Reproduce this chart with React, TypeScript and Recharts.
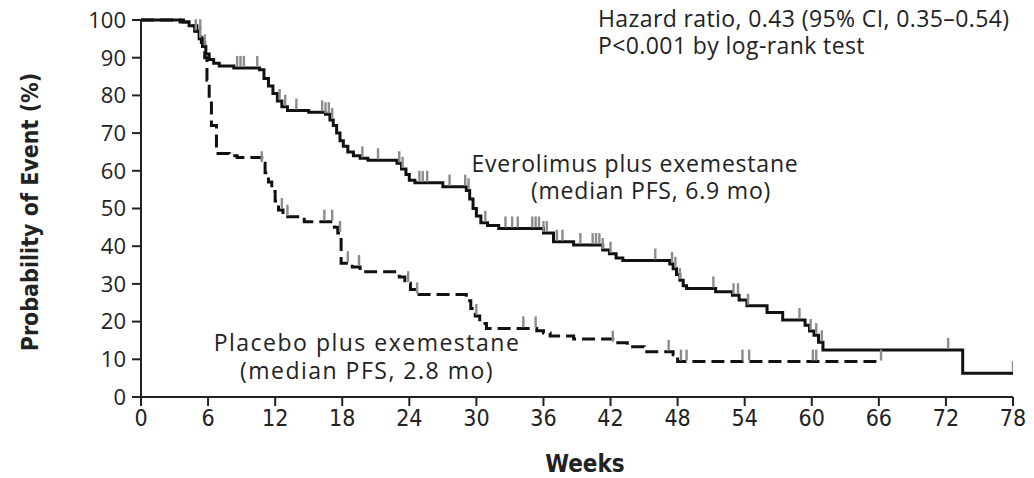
import React from "react";
import { ComposedChart, Line, Scatter, XAxis, YAxis } from "recharts";

// axis ticks
const weekTicks = [0, 6, 12, 18, 24, 30, 36, 42, 48, 54, 60, 66, 72, 78];
const probTicks = [0, 10, 20, 30, 40, 50, 60, 70, 80, 90, 100];

// Kaplan-Meier steps: [week, percent]
const everolimusSteps: [number, number][] = [
  [0, 100], [3.8, 99.5], [4.3, 98.5], [4.8, 97], [5.2, 95], [5.5, 93], [5.8, 91],
  [6.1, 89.5], [6.5, 88.5], [7.0, 87.8], [8.3, 87.3], [10.6, 86.8], [11.0, 84.5],
  [11.4, 82.5], [11.8, 80.5], [12.2, 78.5], [12.6, 77], [13.1, 76], [15.0, 75.5],
  [16.5, 75], [16.9, 73.5], [17.2, 72], [17.5, 70], [17.8, 68], [18.1, 66.5],
  [18.5, 65], [19.0, 64], [19.6, 63.3], [20.3, 62.8], [22.9, 62], [23.3, 60.5],
  [23.7, 59], [24.0, 57.5], [24.5, 56.8], [27.0, 55.8], [29.1, 54.8], [29.4, 52.5],
  [29.7, 50], [30.0, 48], [30.4, 46.2], [31.0, 45.5], [32.0, 44.7], [36.0, 43.5],
  [36.9, 41.2], [38.7, 40.3], [41.3, 39], [41.9, 38], [42.5, 36.9], [43.1, 36.2],
  [47.3, 35.3], [47.6, 34], [47.9, 32.5], [48.2, 31], [48.5, 29.5], [48.8, 28.8],
  [51.4, 27.9], [52.9, 27], [53.5, 25.7], [54.2, 24.2], [56.0, 22.4], [57.4, 20.4],
  [59.4, 19], [59.8, 17.5], [60.2, 16.4], [60.6, 14.5], [61.0, 12.5], [73.5, 6.3],
  [78.0, 6.3],
];

const placeboSteps: [number, number][] = [
  [0, 100], [3.5, 99.5], [4.5, 98.5], [5.0, 97], [5.4, 94], [5.7, 90], [5.9, 84],
  [6.1, 79], [6.3, 72], [6.75, 64.6], [7.9, 64], [8.6, 63.5], [10.8, 62],
  [11.1, 59.5], [11.4, 57], [11.7, 54.5], [12.0, 52], [12.3, 49.6], [12.7, 47.8],
  [14.6, 46.5], [17.3, 45], [17.6, 43.5], [17.9, 35.5], [18.9, 34.5], [19.6, 33.2],
  [23.1, 31.8], [23.6, 30.2], [24.1, 28.5], [24.7, 27.2], [29.1, 25.5], [29.5, 23.5],
  [29.9, 21.5], [30.3, 19.5], [30.9, 18.2], [35.4, 17.6], [36.0, 17], [36.6, 16.2],
  [38.7, 15.4], [42.2, 14.4], [43.5, 13.3], [45.0, 12], [47.6, 11.2], [48.0, 9.4],
  [66.3, 9.4],
];

// censored observations (weeks)
const everolimusCensored = [
  4.9, 5.3, 5.7, 8.6, 8.9, 9.2, 10.4, 12.4, 12.9, 13.9, 16.2, 16.5, 16.8, 17.1,
  19.8, 21.2, 23.1, 23.4, 24.9, 25.2, 25.6, 27.6, 29.0, 29.3, 30.8, 32.6, 33.2,
  33.7, 35.0, 35.3, 35.6, 36.0, 36.3, 37.2, 37.7, 39.3, 40.4, 40.7, 41.0, 41.3,
  42.0, 46.0, 47.5, 47.8, 48.2, 51.2, 53.0, 53.4, 54.3, 58.9, 59.9, 60.4, 60.9,
  72.2, 78.0,
];
const placeboCensored = [
  5.3, 10.8, 12.6, 13.1, 16.4, 17.1, 17.8, 18.5, 19.5, 23.9, 24.7, 30.0, 34.2,
  35.3, 42.2, 47.2, 48.3, 48.8, 53.8, 54.4, 60.1, 60.4, 66.2,
];

const toRows = (steps: [number, number][]) => steps.map(([x, y]) => ({ x, y }));

// value of the step curve at a given week
const valueAt = (steps: [number, number][], week: number) => {
  let v = steps[0][1];
  for (const [x, y] of steps) {
    if (x <= week) v = y;
  }
  return v;
};

const censorRows = (steps: [number, number][], weeks: number[]) =>
  weeks.map((x) => ({ x, y: valueAt(steps, x) }));

const CensorTick = (props: any) => {
  const { cx, cy } = props;
  if (cx == null || cy == null) return null;
  return <line x1={cx} x2={cx} y1={cy - 12} y2={cy - 1} stroke="#8c8c8c" strokeWidth={2.4} />;
};

const tickFont = "'Open Sans', 'DejaVu Sans', sans-serif";
const narrowFont = "'Liberation Sans Narrow', 'DejaVu Sans', sans-serif";

const noteStyle = {
  position: "absolute" as const,
  fontFamily: tickFont,
  fontSize: 23,
  lineHeight: "26px",
  color: "#222",
  whiteSpace: "nowrap" as const,
};

export default function App() {
  return (
    <div style={{ position: "relative", width: 1034, height: 478, background: "#fff" }}>
      <style>{`body{margin:0;background:#fff}`}</style>
      <ComposedChart width={1034} height={478} margin={{ top: 20, right: 21, bottom: 51, left: 0 }}>
        <XAxis
          dataKey="x"
          type="number"
          domain={[0, 78]}
          ticks={weekTicks}
          interval={0}
          allowDataOverflow
          height={30}
          stroke="#222"
          strokeWidth={2}
          tickSize={9}
          tickMargin={4}
          tick={{ fill: "#222", fontSize: 23, fontFamily: narrowFont, fontStretch: "condensed" }}
        />
        <YAxis
          type="number"
          domain={[0, 100]}
          ticks={probTicks}
          interval={0}
          width={141}
          stroke="#222"
          strokeWidth={2}
          tickSize={9}
          tickMargin={6}
          tick={{ fill: "#222", fontSize: 22, fontFamily: tickFont }}
        />
        <Line
          data={toRows(placeboSteps)}
          dataKey="y"
          type="stepAfter"
          stroke="#111"
          strokeWidth={3}
          strokeDasharray="13 6"
          dot={false}
          isAnimationActive={false}
        />
        <Line
          data={toRows(everolimusSteps)}
          dataKey="y"
          type="stepAfter"
          stroke="#111"
          strokeWidth={3}
          dot={false}
          isAnimationActive={false}
        />
        <Scatter
          data={censorRows(everolimusSteps, everolimusCensored)}
          dataKey="y"
          shape={CensorTick}
          isAnimationActive={false}
        />
        <Scatter
          data={censorRows(placeboSteps, placeboCensored)}
          dataKey="y"
          shape={CensorTick}
          isAnimationActive={false}
        />
      </ComposedChart>

      <div style={{ ...noteStyle, left: 598, top: 5, letterSpacing: 0.4 }}>
        Hazard ratio, 0.43 (95% CI, 0.35–0.54)
      </div>
      <div style={{ ...noteStyle, left: 598, top: 32, letterSpacing: 0.4 }}>
        P&lt;0.001 by log-rank test
      </div>

      <div style={{ ...noteStyle, left: 435, width: 400, top: 150, textAlign: "center", letterSpacing: 0.8 }}>
        Everolimus plus exemestane
      </div>
      <div style={{ ...noteStyle, left: 451, width: 400, top: 177, textAlign: "center", letterSpacing: 0.8 }}>
        (median PFS, 6.9 mo)
      </div>

      <div style={{ ...noteStyle, left: 167, width: 400, top: 329, textAlign: "center", letterSpacing: 1.5 }}>
        Placebo plus exemestane
      </div>
      <div style={{ ...noteStyle, left: 167, width: 400, top: 357, textAlign: "center", letterSpacing: 1.5 }}>
        (median PFS, 2.8 mo)
      </div>

      <div
        style={{
          position: "absolute",
          left: 485,
          width: 200,
          top: 450,
          textAlign: "center",
          fontFamily: narrowFont,
          fontStretch: "condensed",
          fontWeight: "bold",
          fontSize: 24,
          color: "#222",
        }}
      >
        Weeks
      </div>

      <div
        style={{
          position: "absolute",
          left: 30,
          top: 212,
          transform: "translate(-50%, -50%) rotate(-90deg)",
          fontFamily: narrowFont,
          fontStretch: "condensed",
          fontWeight: "bold",
          fontSize: 23,
          color: "#222",
          whiteSpace: "nowrap",
        }}
      >
        Probability of Event (%)
      </div>
    </div>
  );
}
